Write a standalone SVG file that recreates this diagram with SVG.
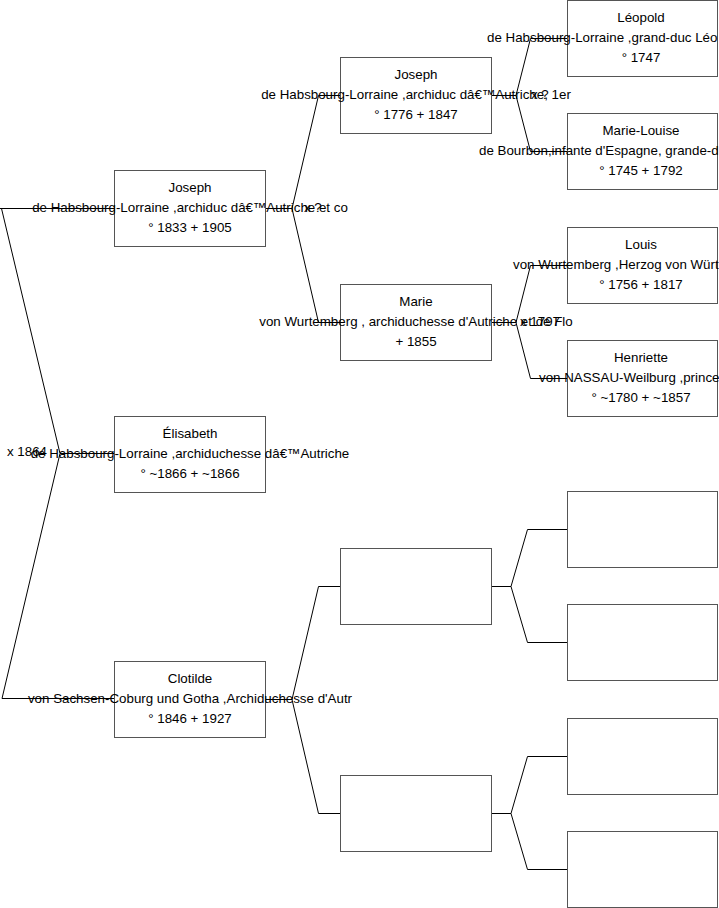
<svg xmlns="http://www.w3.org/2000/svg" width="719" height="908" viewBox="0 0 719 908">
<style>
.box{fill:#fff;stroke:#555;stroke-width:1}
.ln{fill:none;stroke:#000;stroke-width:1}
text{font-family:"Liberation Sans",Arial,sans-serif;font-size:13.33px;fill:#000}
.c1{text-anchor:middle}
</style>
<rect x="0" y="0" width="719" height="908" fill="#fff"/>
<g id="connectors">
<path class="ln" d="M0,208.5H114.5 M1.5,208.5L60,453.5L2,698.5 M60,453.5H114.5 M2,698.5H114.5"/>
<path class="ln" d="M265,208.5H292 M318.5,95.5L292,208.5L318.5,322.5 M318.5,95.5H340 M318.5,322.5H340"/>
<path class="ln" d="M265,699.5H292 M318.5,586.5L292,699.5L318.5,813.5 M318.5,586.5H340 M318.5,813.5H340"/>
<path class="ln" d="M491,95.5H516 M530.5,38.5L516,95.5L530.5,151.5 M530.5,38.5H567 M530.5,151.5H567"/>
<path class="ln" d="M491,322.5H516 M530.5,265.5L516,322.5L530.5,378.5 M530.5,265.5H567 M530.5,378.5H567"/>
<path class="ln" d="M491,586.5H511 M527.5,529.5L511,586.5L527.5,642.5 M527.5,529.5H567 M527.5,642.5H567"/>
<path class="ln" d="M491,813.5H511 M527.5,756.5L511,813.5L527.5,869.5 M527.5,756.5H567 M527.5,869.5H567"/>
<text x="7" y="456">x 1864</text>
<text x="304" y="212">x ?</text>
<text x="531" y="98.5">x ?</text>
<text x="520" y="325.5">x 1797</text>
</g>
<g id="n-joseph-1833">
<rect class="box" x="114.5" y="170.5" width="151" height="76"/>
<text class="c1" x="190" y="192">Joseph</text>
<text class="c1" x="190" y="212">de Habsbourg-Lorraine ,archiduc dâ€™Autriche et co</text>
<text class="c1" x="190" y="232">° 1833 + 1905</text>
</g>
<g id="n-elisabeth">
<rect class="box" x="114.5" y="416.5" width="151" height="76"/>
<text class="c1" x="190" y="438">Élisabeth</text>
<text class="c1" x="190" y="458">de Habsbourg-Lorraine ,archiduchesse dâ€™Autriche</text>
<text class="c1" x="190" y="478">° ~1866 + ~1866</text>
</g>
<g id="n-clotilde">
<rect class="box" x="114.5" y="661.5" width="151" height="76"/>
<text class="c1" x="190" y="683">Clotilde</text>
<text class="c1" x="190" y="703">von Sachsen-Coburg und Gotha ,Archiduchesse d'Autr</text>
<text class="c1" x="190" y="723">° 1846 + 1927</text>
</g>
<g id="n-joseph-1776">
<rect class="box" x="340.5" y="57.5" width="151" height="76"/>
<text class="c1" x="416" y="79">Joseph</text>
<text class="c1" x="416" y="99">de Habsbourg-Lorraine ,archiduc dâ€™Autriche, 1er</text>
<text class="c1" x="416" y="119">° 1776 + 1847</text>
</g>
<g id="n-marie">
<rect class="box" x="340.5" y="284.5" width="151" height="76"/>
<text class="c1" x="416" y="306">Marie</text>
<text class="c1" x="416" y="326">von Wurtemberg , archiduchesse d'Autriche et de Flo</text>
<text class="c1" x="416" y="346">+ 1855</text>
</g>
<g id="n-empty-2a"><rect class="box" x="340.5" y="548.5" width="151" height="76"/></g>
<g id="n-empty-2b"><rect class="box" x="340.5" y="775.5" width="151" height="76"/></g>
<g id="n-leopold">
<rect class="box" x="567.5" y="0.5" width="150" height="76"/>
<text class="c1" x="641" y="22">Léopold</text>
<text x="487" y="42">de Habsbourg-Lorraine ,grand-duc Léo</text>
<text class="c1" x="641" y="62">° 1747</text>
</g>
<g id="n-marie-louise">
<rect class="box" x="567.5" y="113.5" width="150" height="76"/>
<text class="c1" x="641" y="135">Marie-Louise</text>
<text x="479" y="155">de Bourbon,infante d'Espagne, grande-d</text>
<text class="c1" x="641" y="175">° 1745 + 1792</text>
</g>
<g id="n-louis">
<rect class="box" x="567.5" y="227.5" width="150" height="76"/>
<text class="c1" x="641" y="249">Louis</text>
<text x="513" y="269">von Wurtemberg ,Herzog von Würt</text>
<text class="c1" x="641" y="289">° 1756 + 1817</text>
</g>
<g id="n-henriette">
<rect class="box" x="567.5" y="340.5" width="150" height="76"/>
<text class="c1" x="641" y="362">Henriette</text>
<text x="539" y="382">von NASSAU-Weilburg ,prince</text>
<text class="c1" x="641" y="402">° ~1780 + ~1857</text>
</g>
<g id="n-empty-3a"><rect class="box" x="567.5" y="491.5" width="150" height="76"/></g>
<g id="n-empty-3b"><rect class="box" x="567.5" y="604.5" width="150" height="76"/></g>
<g id="n-empty-3c"><rect class="box" x="567.5" y="718.5" width="150" height="76"/></g>
<g id="n-empty-3d"><rect class="box" x="567.5" y="831.5" width="150" height="76"/></g>
</svg>
